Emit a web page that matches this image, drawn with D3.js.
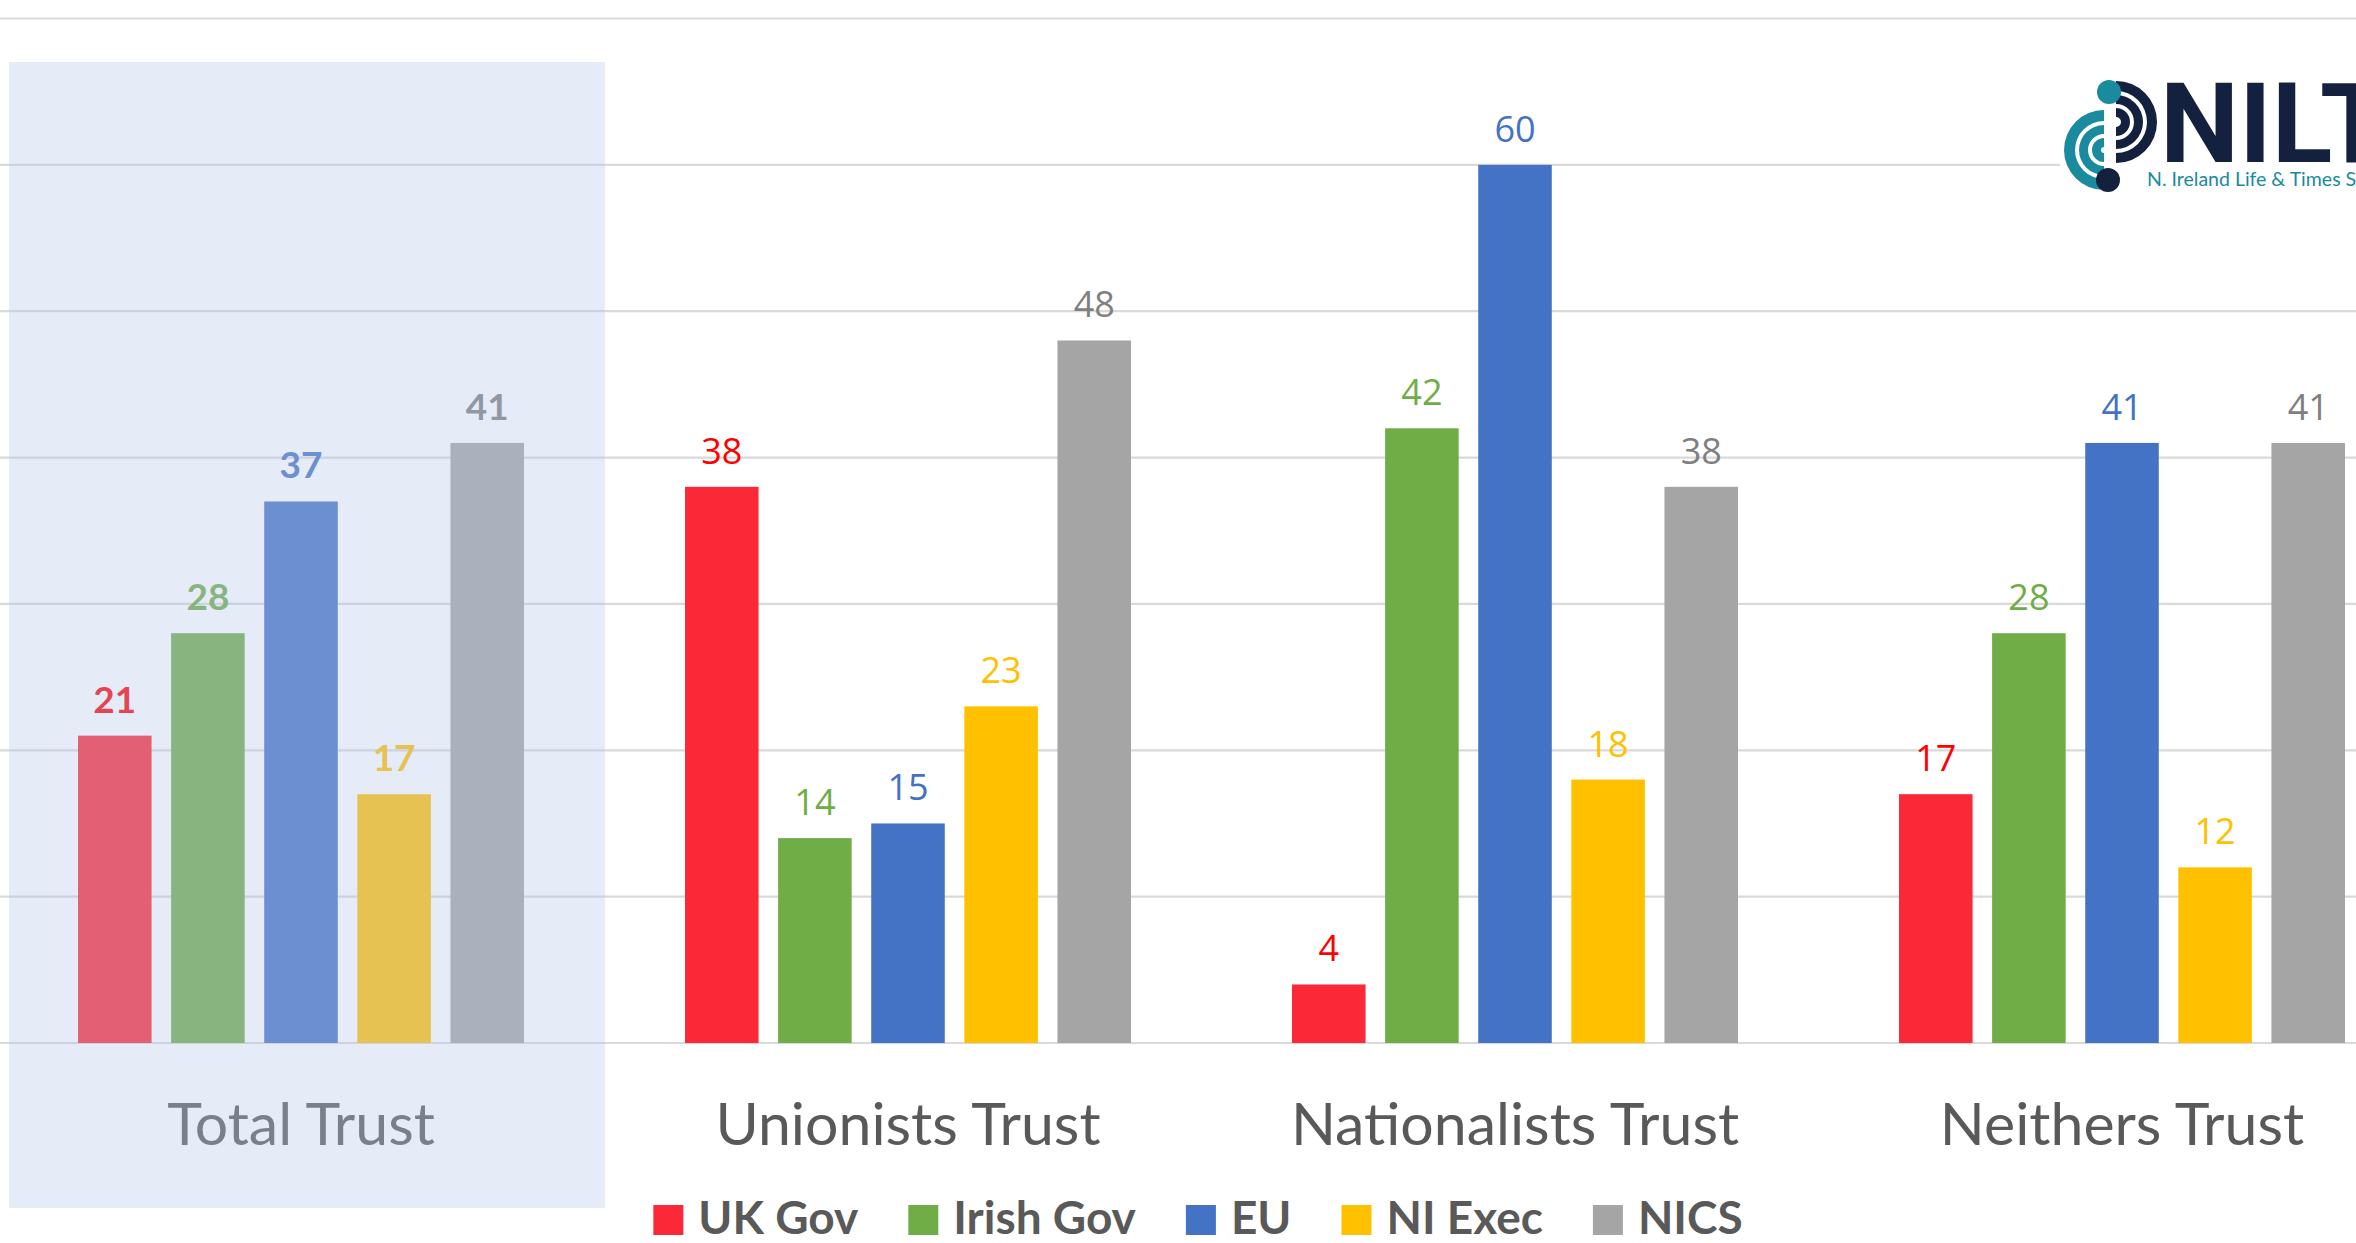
<!DOCTYPE html>
<html>
<head>
<meta charset="utf-8">
<script src="https://cdn.jsdelivr.net/npm/d3@7"></script>
<style>
  html, body { margin: 0; padding: 0; background: #ffffff; }
  svg { display: block; }
</style>
</head>
<body>
<svg id="chart" width="2356" height="1243"></svg>
<script>
// ---- data ----
const categories = ["Total Trust", "Unionists Trust", "Nationalists Trust", "Neithers Trust"];
const seriesNames = ["UK Gov", "Irish Gov", "EU", "NI Exec", "NICS"];
const ukGov    = [21, 38, 4, 17];
const irishGov = [28, 14, 42, 28];
const eu       = [37, 15, 60, 41];
const niExec   = [17, 23, 18, 12];
const nics     = [41, 48, 38, 41];
const yTicks   = [0, 10, 20, 30, 40, 50, 60, 70];

// ---- styling ----
const barColors   = ["#FB2837", "#70AD47", "#4472C4", "#FFC000", "#A5A5A5"];
const labelColors = ["#FF0000", "#70AD47", "#4472C4", "#FFC000", "#7F7F7F"];
const seriesValues = [ukGov, irishGov, eu, niExec, nics];

const W = 2356, H = 1243;
const svg = d3.select("#chart");

const x0 = d3.scaleBand().domain(categories).range([-2.5, -2.5 + 4 * 607]);
const x1 = d3.scaleBand().domain(seriesNames).range([80.5, 526.5]).paddingInner(0.21).paddingOuter(0);
const y = d3.scaleLinear().domain([0, 70]).range([1043, 18.5]);

// gridlines
svg.append("g").selectAll("line").data(yTicks).join("line")
  .attr("x1", 0).attr("x2", W)
  .attr("y1", d => y(d)).attr("y2", d => y(d))
  .attr("stroke", "#D9D9D9").attr("stroke-width", 2.2);

// bars
const rows = [];
categories.forEach((c, ci) => {
  seriesNames.forEach((s, si) => {
    rows.push({ cat: c, ci, s, si, v: seriesValues[si][ci] });
  });
});

svg.append("g").selectAll("rect").data(rows).join("rect")
  .attr("x", d => x0(d.cat) + x1(d.s))
  .attr("y", d => y(d.v))
  .attr("width", x1.bandwidth())
  .attr("height", d => y(0) - y(d.v))
  .attr("fill", d => barColors[d.si]);

// value labels
svg.append("g").selectAll("text").data(rows).join("text")
  .attr("x", d => x0(d.cat) + x1(d.s) + x1.bandwidth() / 2)
  .attr("y", d => y(d.v) - 23)
  .attr("text-anchor", "middle")
  .attr("font-family", d => d.ci === 0 ? "Lato, sans-serif" : "'Open Sans', sans-serif")
  .attr("font-weight", d => d.ci === 0 ? 700 : 400)
  .attr("font-size", d => d.ci === 0 ? 37 : 36)
  .attr("fill", d => labelColors[d.si])
  .text(d => d.v);

// category labels
svg.append("g").selectAll("text").data(categories).join("text")
  .attr("x", d => x0(d) + x0.bandwidth() / 2)
  .attr("y", 1145)
  .attr("text-anchor", "middle")
  .attr("font-family", "Lato, sans-serif")
  .attr("font-size", 59)
  .attr("fill", "#595959")
  .text(d => d);

// highlight overlay over "Total Trust"
svg.append("rect")
  .attr("x", 9).attr("y", 62)
  .attr("width", 596).attr("height", 1146)
  .attr("fill", "#B4C7E7").attr("opacity", 0.35);

// legend
const legend = svg.append("g");
const items = legend.selectAll("g").data(seriesNames).join("g");
items.append("rect")
  .attr("width", 30).attr("height", 30)
  .attr("y", 1205)
  .attr("fill", (d, i) => barColors[i]);
items.append("text")
  .attr("y", 1234)
  .attr("font-family", "Lato, sans-serif")
  .attr("font-weight", 700)
  .attr("font-size", 46)
  .attr("fill", "#595959")
  .text(d => d);
// sequential layout
let lx = 0;
const layout = [];
items.each(function () {
  const tw = d3.select(this).select("text").node().getComputedTextLength();
  layout.push({ start: lx, tw });
  lx += 30 + 15 + tw + 50;
});
const totalW = lx - 50;
const legendStart = 1198 - totalW / 2;
items.each(function (d, i) {
  const g = d3.select(this);
  g.select("rect").attr("x", legendStart + layout[i].start);
  g.select("text").attr("x", legendStart + layout[i].start + 45);
});

// logo (NILT)
const logo = svg.append("g");
logo.append("rect").attr("x", 2060).attr("y", 70).attr("width", 300).attr("height", 128).attr("fill", "#ffffff");
const arc = d3.arc();
const navy = "#13213F", teal = "#1A8A9E";
[[31, 41], [18, 27], [5, 14]].forEach(r => {
  logo.append("path")
    .attr("transform", "translate(2116,122)")
    .attr("d", arc({ innerRadius: r[0], outerRadius: r[1], startAngle: 0, endAngle: Math.PI }))
    .attr("fill", navy);
});
[[29, 40], [16, 25], [3, 12]].forEach(r => {
  logo.append("path")
    .attr("transform", "translate(2104,150)")
    .attr("d", arc({ innerRadius: r[0], outerRadius: r[1], startAngle: Math.PI, endAngle: 2 * Math.PI }))
    .attr("fill", teal);
});
logo.append("circle").attr("cx", 2109).attr("cy", 92).attr("r", 12).attr("fill", teal);
logo.append("circle").attr("cx", 2108).attr("cy", 180).attr("r", 12).attr("fill", navy);
logo.append("text")
  .attr("x", 2160).attr("y", 162)
  .attr("font-family", "Roboto, sans-serif").attr("font-weight", 700)
  .attr("font-size", 112).attr("fill", navy)
  .text("NILT");
logo.append("text")
  .attr("x", 2147).attr("y", 186)
  .attr("font-family", "Lato, sans-serif")
  .attr("font-size", 19.5).attr("fill", teal)
  .text("N. Ireland Life & Times Survey");
</script>
</body>
</html>
